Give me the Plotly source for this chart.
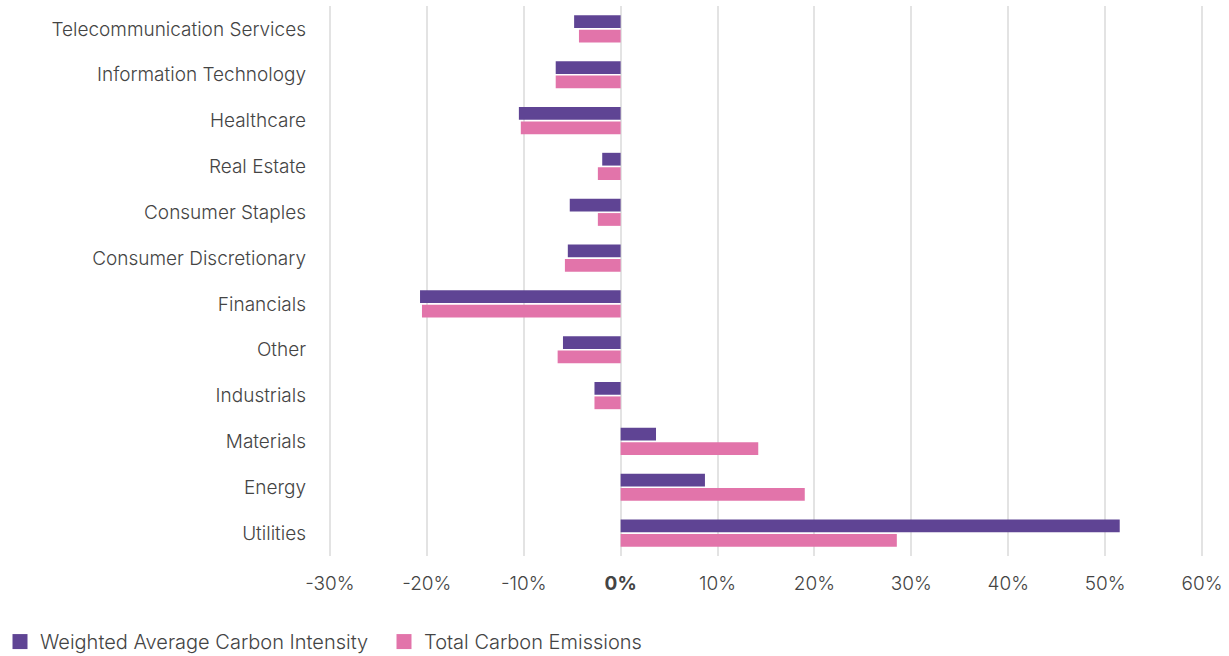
import plotly.graph_objects as go

categories = ["Telecommunication Services", "Information Technology", "Healthcare", "Real Estate",
              "Consumer Staples", "Consumer Discretionary", "Financials", "Other", "Industrials",
              "Materials", "Energy", "Utilities"]
waci = [-4.8, -6.7, -10.5, -1.9, -5.25, -5.45, -20.7, -5.95, -2.7, 3.65, 8.7, 51.5]
tce = [-4.3, -6.7, -10.3, -2.35, -2.35, -5.75, -20.5, -6.5, -2.7, 14.2, 19.0, 28.5]
series_names = ["Weighted Average Carbon Intensity", "Total Carbon Emissions"]
tick_vals = [-30, -20, -10, 0, 10, 20, 30, 40, 50, 60]
tick_text = ["-30%", "-20%", "-10%", "<b>0%</b>", "10%", "20%", "30%", "40%", "50%", "60%"]

PURPLE = "#5F4494"
PINK = "#E274AA"
colors = [PURPLE, PINK]

fig = go.Figure()
for vals, name, col in zip([waci, tce], series_names, colors):
    fig.add_trace(go.Bar(y=categories, x=vals, orientation="h", name=name, showlegend=False,
                         marker=dict(color=col, line=dict(width=0))))
# legend entries with square swatches
for name, col in zip(series_names, colors):
    fig.add_trace(go.Scatter(x=[None], y=[None], mode="markers", name=name,
                             marker=dict(symbol="square", size=15, color=col)))

fig.update_layout(
    width=1229, height=656,
    margin=dict(l=327, r=24, t=6, b=100),
    barmode="group", bargap=0.37, bargroupgap=0.115,
    plot_bgcolor="white", paper_bgcolor="white",
    font=dict(family="Inter", size=19, color="#444444", weight=300),
    showlegend=True,
    legend=dict(orientation="h", xref="container", yref="container", x=0, y=0.022,
                xanchor="left", yanchor="middle", font=dict(size=20, color="#444444"),
                itemwidth=30, tracegroupgap=0, entrywidth=339, entrywidthmode="pixels"),
    xaxis=dict(range=[-30.3, 60.3], tickvals=tick_vals, ticktext=tick_text, showgrid=True,
               gridcolor="#E3E3E3", gridwidth=2, zeroline=False, showline=False,
               ticks="", ticklabelstandoff=14, fixedrange=True),
    yaxis=dict(autorange="reversed", showgrid=False, zeroline=False, showline=False,
               ticks="", ticklabelstandoff=20),
)

fig.write_html("out.html")
